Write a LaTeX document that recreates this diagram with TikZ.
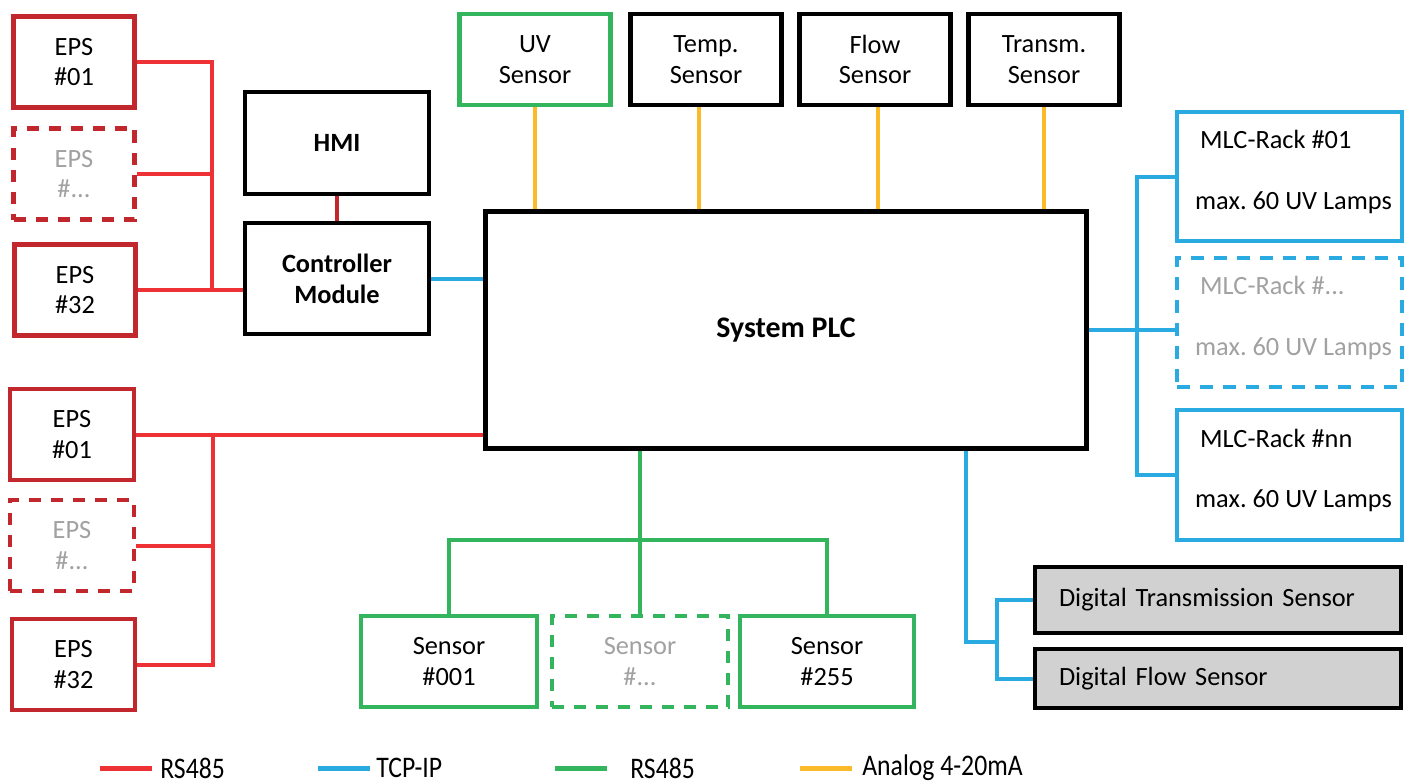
\documentclass[tikz,border=0pt]{standalone}
\usepackage{fontspec}
\setmainfont{Carlito}
\newfontfamily\legendfont[FakeStretch=0.86]{Carlito}
\usetikzlibrary{calc}
\frenchspacing

\newlength{\du}
\setlength{\du}{0.02cm}

\definecolor{epsred}{rgb}{0.757, 0.153, 0.176}
\definecolor{busred}{rgb}{0.933, 0.192, 0.204}
\definecolor{tcpblue}{rgb}{0.161, 0.671, 0.886}
\definecolor{rsgreen}{rgb}{0.200, 0.710, 0.370}
\definecolor{analogorange}{rgb}{0.984, 0.729, 0.165}
\definecolor{ghostgray}{rgb}{0.630, 0.630, 0.630}
\definecolor{digifill}{rgb}{0.820, 0.820, 0.820}

\tikzset{
  box/.style={draw, line width=4.5\du, inner sep=0pt, align=center,
    font=\fontsize{15}{17.5}\selectfont},
  ghost/.style={dash pattern=on 12\du off 10\du, text=ghostgray},
  epsbox/.style={box, draw=epsred, minimum width=121\du, minimum height=91\du},
  ctrlbox/.style={box, minimum width=184\du, font=\fontsize{15}{17.5}\selectfont\bfseries},
  topbox/.style={box, minimum width=151\du, minimum height=91\du},
  mlcbox/.style={box, draw=tcpblue, minimum width=225\du, minimum height=129\du},
  senbox/.style={box, draw=rsgreen, minimum width=176\du, minimum height=91\du},
  digibox/.style={box, fill=digifill, align=left, text width=318\du, inner xsep=24\du},
  boxtext/.style={inner sep=0pt, font=\fontsize{15}{17.5}\selectfont},
  legtext/.style={inner sep=0pt, anchor=west, font=\fontsize{17}{19}\legendfont},
  redline/.style={draw=busred, line width=4\du},
  blueline/.style={draw=tcpblue, line width=4\du},
  greenline/.style={draw=rsgreen, line width=4\du},
  orangeline/.style={draw=analogorange, line width=3.2\du}
}

\begin{document}
\begin{tikzpicture}
\pgftransformxscale{1.000000}
\pgftransformyscale{-1.000000}
\useasboundingbox (0\du,0\du) rectangle (1413\du,784\du);

% EPS groups
\node[epsbox] (epsA1) at (74\du,62\du) {EPS\\\#01};
\node[epsbox,ghost] (epsA2) at (74\du,174\du) {EPS\\\#...};
\node[epsbox] (epsA3) at (75\du,290\du) {EPS\\\#32};
\node[epsbox,minimum width=124\du] (epsB1) at (72\du,434.5\du) {EPS\\\#01};
\node[epsbox,ghost,minimum width=124\du] (epsB2) at (72\du,545.5\du) {EPS\\\#...};
\node[epsbox,minimum width=123\du] (epsB3) at (73.5\du,664.5\du) {EPS\\\#32};

\node[ctrlbox,minimum height=102\du] (hmi) at (337\du,143\du) {HMI};
\node[ctrlbox,minimum height=111\du] (ctrl) at (337\du,278.5\du) {Controller\\Module};

\node[box,minimum width=601\du,minimum height=237\du,font=\fontsize{17}{20}\selectfont\bfseries] (plc) at (786\du,330\du) {System PLC};

% analog sensors
\node[topbox,draw=rsgreen] (uv) at (535\du,59.5\du) {UV\\Sensor};
\node[topbox] (temp) at (706\du,59.5\du) {Temp.\\Sensor};
\node[topbox] (flow) at (875\du,59.5\du) {Flow\\Sensor};
\node[topbox] (trans) at (1044\du,59.5\du) {Transm.\\Sensor};

% MLC racks
\node[mlcbox] (mlc1) at (1289.5\du,176.5\du) {};
\node[mlcbox,dash pattern=on 13\du off 10\du] (mlc2) at (1289.5\du,322.5\du) {};
\node[mlcbox,minimum height=130\du] (mlc3) at (1289.5\du,475\du) {};
\node[boxtext,anchor=west] (mlc1t) at ($(mlc1.west)+(25\du,-37\du)$) {MLC-Rack \#01};
\node[boxtext,anchor=east] (mlc1l) at ($(mlc1.east)+(-12\du,26\du)$) {max. 60 UV Lamps};
\node[boxtext,anchor=west,text=ghostgray] (mlc2t) at ($(mlc2.west)+(25\du,-37\du)$) {MLC-Rack \#...};
\node[boxtext,anchor=east,text=ghostgray] (mlc2l) at ($(mlc2.east)+(-12\du,26\du)$) {max. 60 UV Lamps};
\node[boxtext,anchor=west] (mlc3t) at ($(mlc3.west)+(25\du,-37\du)$) {MLC-Rack \#nn};
\node[boxtext,anchor=east] (mlc3l) at ($(mlc3.east)+(-12\du,26\du)$) {max. 60 UV Lamps};

% digital sensors
\node[digibox,minimum height=66\du] (dts) at (1218\du,600\du) {Digital Transmission Sensor};
\node[digibox,minimum height=59\du] (dfs) at (1218\du,678.5\du) {Digital Flow Sensor};

% RS485 sensors
\node[senbox] (sen1) at (449\du,661.5\du) {Sensor\\\#001};
\node[senbox,ghost] (sen2) at (640\du,661.5\du) {Sensor\\\#...};
\node[senbox,minimum width=174\du] (sen3) at (827\du,661.5\du) {Sensor\\\#255};

% buses
\coordinate (busA) at (212\du,0\du);
\coordinate (busB) at (213\du,0\du);
\coordinate (busC) at (1137\du,0\du);
\coordinate (busD) at (0\du,540\du);
\coordinate (busE) at (997\du,0\du);
\coordinate (dtap) at (966\du,642\du);

\draw[redline] (epsA1.east) -| (busA |- epsA3.east) -- (ctrl.west |- epsA3.east);
\draw[redline] (epsA2.east) -- (busA |- epsA2.east);
\draw[redline] (epsA3.east) -- (busA |- epsA3.east);
\draw[draw=epsred,line width=4\du] (hmi.south) -- (ctrl.north);
\draw[redline] (plc.west |- epsB1.east) -- (epsB1.east);
\draw[redline] (busB |- epsB1.east) -- (busB |- epsB3.east) -- (epsB3.east);
\draw[redline] (epsB2.east) -- (busB |- epsB2.east);

\draw[blueline] (ctrl.east) -- (ctrl.east -| plc.west);
\draw[blueline] (mlc1.west) -| (busC |- mlc3.west) -- (mlc3.west);
\draw[blueline] (plc.east) -- (plc.east -| mlc2.west);
\draw[blueline] (plc.south -| dtap) -- (dtap) -- (dtap -| busE);
\draw[blueline] (dts.west) -| (busE |- dfs.west) -- (dfs.west);

\draw[orangeline] (uv.south) -- (uv.south |- plc.north);
\draw[orangeline] ([xshift=-7\du]temp.south) -- ([xshift=-7\du]temp.south |- plc.north);
\draw[orangeline] ([xshift=3\du]flow.south) -- ([xshift=3\du]flow.south |- plc.north);
\draw[orangeline] (trans.south) -- (trans.south |- plc.north);

\draw[greenline] (plc.south -| sen2.north) -- (sen2.north);
\draw[greenline] (sen1.north) |- (busD -| sen3.north) -- (sen3.north);

% legend
\node[legtext] (leg1) at (160\du,768\du) {RS485};
\node[legtext] (leg2) at (376\du,768\du) {TCP-IP};
\node[legtext] (leg3) at (630\du,768\du) {RS485};
\node[legtext] (leg4) at (862\du,768\du) {Analog 4-20mA};
\coordinate (key1) at (100\du,768\du);
\coordinate (key2) at (318\du,768\du);
\coordinate (key3) at (555\du,768\du);
\coordinate (key4) at (800\du,768\du);
\draw[redline,line width=5\du] (key1) -- ++(52\du,0);
\draw[blueline,line width=5\du] (key2) -- ++(52\du,0);
\draw[greenline,line width=5\du] (key3) -- ++(52\du,0);
\draw[orangeline,line width=5\du] (key4) -- ++(52\du,0);
\end{tikzpicture}
\end{document}
